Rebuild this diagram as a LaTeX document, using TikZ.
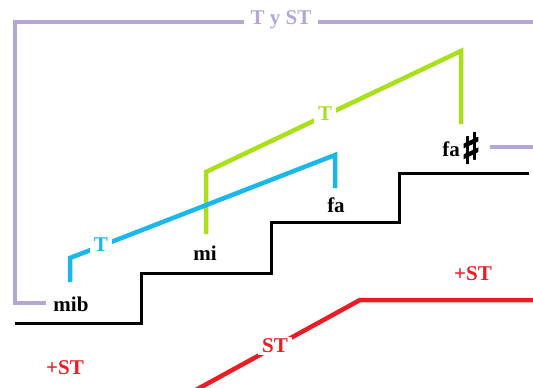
\documentclass[tikz,border=0pt]{standalone}
\usepackage{fontspec}
\setmainfont{Liberation Serif}
\newfontfamily\sharpfont[FakeBold=4]{DejaVu Sans}
\definecolor{lilac}{HTML}{B4A7D6}
\definecolor{lime}{HTML}{A8E01A}
\definecolor{sky}{HTML}{1AB8EA}
\definecolor{redst}{HTML}{ED1C24}
\tikzset{
  lbl/.style={font=\bfseries\fontsize{21}{21}\selectfont, inner sep=0pt},
  onl/.style={lbl, fill=white, inner xsep=4pt, inner ysep=2pt},
  purpleline/.style={draw=lilac, line width=4.5pt},
  greenline/.style={draw=lime, line width=4.5pt},
  blueline/.style={draw=sky, line width=4.5pt},
  redline/.style={draw=redst, line width=4.5pt},
  stairline/.style={draw=black, line width=3pt}
}
\begin{document}
\begin{tikzpicture}[x=1pt, y=-1pt]
\useasboundingbox (0,0) rectangle (533,388);
\clip (0,0) rectangle (533,388);
% coordinates
\coordinate (pb) at (46,303);
\coordinate (pbl) at (15,303);
\coordinate (ptl) at (15,22);
\coordinate (ptr) at (533,22);
\coordinate (fsl) at (490,147);
\coordinate (fsr) at (533,147);
\coordinate (g1) at (206,234);
\coordinate (g2) at (206,172);
\coordinate (g3) at (461,51);
\coordinate (g4) at (461,124);
\coordinate (b1) at (70,282);
\coordinate (b2) at (70,258);
\coordinate (b3) at (335,155);
\coordinate (b4) at (335,188);
\coordinate (r0) at (15,391);
\coordinate (r1) at (194,391);
\coordinate (r2) at (360,300);
\coordinate (r3) at (533,300);
\coordinate (s0) at (15,323);
\coordinate (s1) at (141,323);
\coordinate (s2) at (141,273);
\coordinate (s3) at (271,273);
\coordinate (s4) at (271,222);
\coordinate (s5) at (399,222);
\coordinate (s6) at (399,173);
\coordinate (s7) at (529,173);
% lines
\draw[purpleline] (pb) -- (pbl) -- (ptl) -- (ptr);
\draw[purpleline] (fsl) -- (fsr);
\draw[stairline] (s0) -- (s1) -- (s2) -- (s3) -- (s4) -- (s5) -- (s6) -- (s7);
\draw[greenline] (g1) -- (g2) -- (g3) -- (g4);
\draw[blueline] (b1) -- (b2) -- (b3) -- (b4);
\draw[redline] (r0) -- (r1) -- (r2) -- (r3);
% labels on lines
\node[onl, text=lilac, inner xsep=7pt] (tyst) at (281,20) {T y ST};
\node[onl, text=lime] (gt) at (325,114) {T};
\node[onl, text=sky] (bt) at (101,245) {T};
\node[onl, text=redst] (rst) at (275,346) {ST};
% free labels
\node[lbl, text=redst] (pst1) at (473,274) {+ST};
\node[lbl, text=redst] (pst2) at (65,368) {+ST};
\node[lbl] (mib) at (71,304) {mib};
\node[lbl] (mi) at (205,253) {mi};
\node[lbl] (fa) at (336,205) {fa};
\node[lbl] (fa2) at (451,149) {fa};
\node[inner sep=0pt, font=\sharpfont\fontsize{42}{42}\selectfont] (sharp) at (471,148) {♯};
\end{tikzpicture}
\end{document}
